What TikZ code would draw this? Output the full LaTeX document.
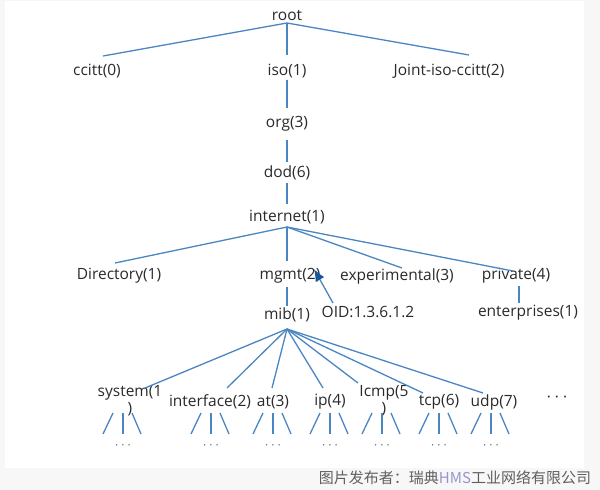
\documentclass[tikz,border=0pt]{standalone}
\usepackage{fontspec}
\setmainfont{Open Sans}
\newfontfamily\cjkfont{Noto Sans CJK SC}
\usetikzlibrary{arrows.meta}
\definecolor{linkblue}{RGB}{74,134,194}
\definecolor{arrowblue}{RGB}{22,86,156}
\definecolor{txtgray}{RGB}{42,42,42}
\definecolor{dotgray}{RGB}{110,110,110}
\definecolor{bggray}{RGB}{247,247,247}
\definecolor{wmgray}{RGB}{95,95,95}
\definecolor{hmscol}{RGB}{150,150,205}
\tikzset{
  lbl/.style={inner sep=0pt, text=txtgray, font=\fontsize{15.5}{17}\selectfont},
  lbltwo/.style={lbl, align=center},
  dotsnode/.style={inner sep=0pt, text=dotgray, font=\fontsize{12}{13}\selectfont},
  link/.style={draw=linkblue, line width=1.3pt},
  stub/.style={draw=linkblue, line width=1.3pt},
}
\begin{document}
\begin{tikzpicture}[x=1pt,y=-1pt]
\useasboundingbox (0,0) rectangle (600,490);
\fill[bggray] (0,0) rectangle (600,490);
\fill[white] (5,1) rectangle (584,468);

% nodes
\node[lbl] (root) at (287,15) {root};
\node[lbl] (ccitt) at (97,71) {ccitt(0)};
\node[lbl] (iso) at (287,71) {iso(1)};
\node[lbl] (joint) at (449,71) {Joint-iso-ccitt(2)};
\node[lbl] (org) at (287,124) {org(3)};
\node[lbl] (dod) at (287,173) {dod(6)};
\node[lbl] (internet) at (287,217) {internet(1)};
\node[lbl] (dir) at (119,276) {Directory(1)};
\node[lbl] (mgmt) at (290,276) {mgmt(2)};
\node[lbl] (exp) at (397,276) {experimental(3)};
\node[lbl] (priv) at (516,276) {private(4)};
\node[lbl] (mib) at (287,315) {mib(1)};
\node[lbl] (oid) at (368,312) {OID:1.3.6.1.2};
\node[lbl] (ent) at (528,313) {enterprises(1)};
\node[lbltwo] (system) at (130,401) {system(1\\)};
\node[lbl] (iface) at (210,402) {interface(2)};
\node[lbl] (at) at (273,402) {at(3)};
\node[lbl] (ip) at (330,402) {ip(4)};
\node[lbltwo] (icmp) at (384,401) {Icmp(5\\)};
\node[lbl] (tcp) at (439,402) {tcp(6)};
\node[lbl] (udp) at (494,402) {udp(7)};
\node[lbl] (more) at (557,399) {· · ·};

% upper tree
\draw[link] ([shift={(0,8)}]root.center) -- ([shift={(6,-15)}]ccitt.center);
\draw[link] ([shift={(0,8)}]root.center) -- ([shift={(0,-16)}]iso.center);
\draw[link] ([shift={(0,8)}]root.center) -- ([shift={(20,-16)}]joint.center);
\draw[link] ([shift={(0,9)}]iso.center) -- ([shift={(0,-16)}]org.center);
\draw[link] ([shift={(0,16)}]org.center) -- ([shift={(0,-11)}]dod.center);
\draw[link] ([shift={(0,10)}]dod.center) -- ([shift={(0,-13)}]internet.center);

% internet fan
\coordinate (inetbot) at ([shift={(0,10)}]internet.center);
\draw[link] (inetbot) -- ([shift={(-4,-13)}]dir.center);
\draw[link] (inetbot) -- ([shift={(-3,-15)}]mgmt.center);
\draw[link] (inetbot) -- ([shift={(5,-8)}]exp.center);
\draw[link] (inetbot) -- ([shift={(-3,-5)}]priv.center);

\draw[link] ([shift={(-3,11)}]mgmt.center) -- ([shift={(0,-9)}]mib.center);
\draw[link] ([shift={(3,10)}]priv.center) -- ([shift={(-9,-10)}]ent.center);

% OID arrow
\draw[draw=linkblue, line width=1.3pt, -{Latex[length=12pt,width=10pt,color=arrowblue]}]
  ([shift={(-35,-9)}]oid.center) -- ([shift={(24,-7)}]mgmt.center);

% mib fan
\coordinate (mibbot) at ([shift={(0,14)}]mib.center);
\draw[link] (mibbot) -- ([shift={(15,-13)}]system.center);
\draw[link] (mibbot) -- ([shift={(17,-14)}]iface.center);
\draw[link] (mibbot) -- ([shift={(-1,-14)}]at.center);
\draw[link] (mibbot) -- ([shift={(-7,-14)}]ip.center);
\draw[link] (mibbot) -- ([shift={(-26,-18)}]icmp.center);
\draw[link] (mibbot) -- ([shift={(-16,-9)}]tcp.center);
\draw[link] (mibbot) -- ([shift={(-11,-9)}]udp.center);

% stubs and dots
\foreach \n/\c in {a/123,b/211,c/273,d/330,e/382,f/439,g/491}{
  \node[dotsnode] (dots\n) at (\c,447) {· · ·};
  \draw[stub] ([shift={(-10,-34)}]dots\n.center) -- ([shift={(-20,-13)}]dots\n.center);
  \draw[stub] ([shift={(0,-34)}]dots\n.center) -- ([shift={(0,-13)}]dots\n.center);
  \draw[stub] ([shift={(9,-34)}]dots\n.center) -- ([shift={(18,-13)}]dots\n.center);
}

% watermark
\node[inner sep=0pt, text=wmgray, font=\cjkfont\fontsize{15}{17}\selectfont] (wm) at (455,478)
  {图片发布者：瑞典\textcolor{hmscol}{HMS}工业网络有限公司};
\end{tikzpicture}
\end{document}
